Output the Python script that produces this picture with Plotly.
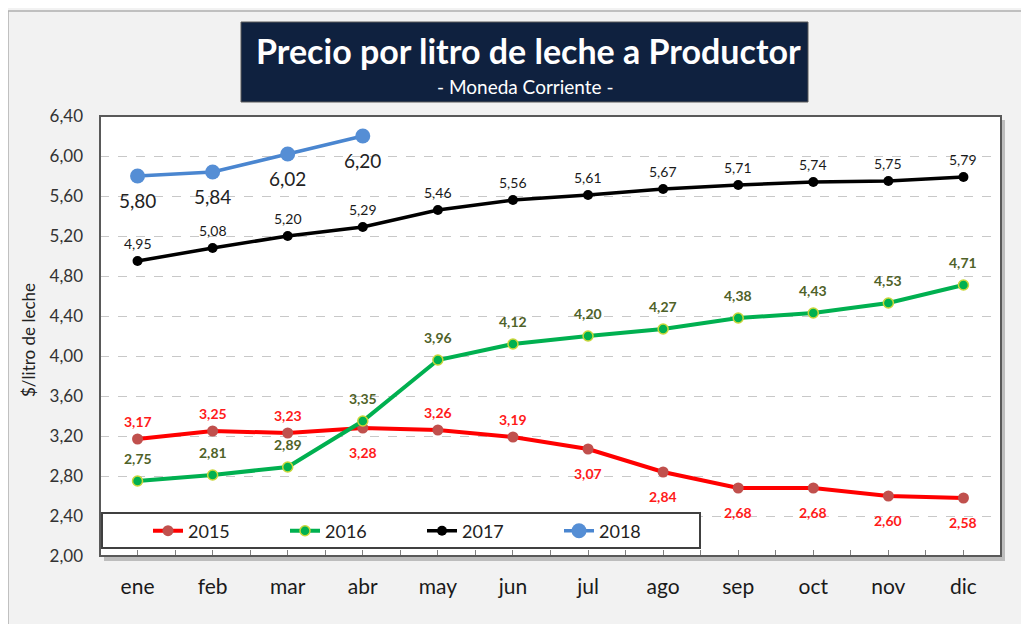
import plotly.graph_objects as go

months = ["ene", "feb", "mar", "abr", "may", "jun", "jul", "ago", "sep", "oct", "nov", "dic"]
v2015 = [3.17, 3.25, 3.23, 3.28, 3.26, 3.19, 3.07, 2.84, 2.68, 2.68, 2.60, 2.58]
v2016 = [2.75, 2.81, 2.89, 3.35, 3.96, 4.12, 4.20, 4.27, 4.38, 4.43, 4.53, 4.71]
v2017 = [4.95, 5.08, 5.20, 5.29, 5.46, 5.56, 5.61, 5.67, 5.71, 5.74, 5.75, 5.79]
v2018 = [5.80, 5.84, 6.02, 6.20]
# label placement: 1 = above the point, -1 = below
side2015 = [1, 1, 1, -1, 1, 1, -1, -1, -1, -1, -1, -1]

W, H = 1029, 624
OFF = 8  # page body margin
PL, PR, PT, PB = 100, 1001, 116, 556
L, R, T, B = PL - OFF, PR - OFF, PT - OFF, PB - OFF


def px(x):
    return (x - PL) / (PR - PL)


def py(y):
    return (PB - y) / (PB - PT)


xs = list(range(12))


def fmt(v):
    return f"{v:.2f}".replace(".", ",")


fig = go.Figure()
fig.add_trace(go.Scatter(
    x=xs, y=v2015, name="2015", mode="lines+markers",
    line=dict(color="#ff0000", width=4),
    marker=dict(color="#c0504d", size=11),
))
fig.add_trace(go.Scatter(
    x=xs, y=v2016, name="2016", mode="lines+markers",
    line=dict(color="#00b050", width=4),
    marker=dict(color="#00b050", size=10, line=dict(color="#c9d63a", width=1.5)),
))
fig.add_trace(go.Scatter(
    x=xs, y=v2017, name="2017", mode="lines+markers",
    line=dict(color="#000000", width=3.5),
    marker=dict(color="#000000", size=10),
))
fig.add_trace(go.Scatter(
    x=xs[:len(v2018)], y=v2018, name="2018", mode="lines+markers",
    line=dict(color="#4a86d0", width=3.5),
    marker=dict(color="#558ed5", size=15),
))

annotations = []


def add_labels(vals, sides, up, down, color, size, weight):
    for i, (v, s) in enumerate(zip(vals, sides)):
        annotations.append(dict(
            x=xs[i], y=v, xref="x", yref="y", text=fmt(v), showarrow=False,
            xanchor="center", yanchor="middle", yshift=up if s > 0 else -down,
            font=dict(family="Lato", size=size, color=color, weight=weight)))


add_labels(v2015, side2015, 18, 24, "#ff1a1a", 14, "bold")
add_labels(v2016, [1] * 12, 23, 0, "#4f6228", 14, "bold")
add_labels(v2017, [1] * 12, 18, 0, "#1a1a1a", 14, "normal")
add_labels(v2018, [-1] * 4, 0, 24, "#222222", 19, "normal")

shapes = [
    dict(type="rect", xref="paper", yref="paper", x0=px(8), x1=px(1050), y0=py(650), y1=py(11),
         line=dict(color="#b0b0b0", width=1.5), fillcolor="rgba(0,0,0,0)", layer="below"),
    dict(type="rect", xref="paper", yref="paper", x0=px(PL + 4), x1=px(PR + 4), y0=py(PB + 5), y1=py(PT + 4),
         line=dict(width=0), fillcolor="#bdbdbd", layer="below"),
    dict(type="rect", xref="paper", yref="paper", x0=0, x1=1, y0=0, y1=1,
         line=dict(width=0), fillcolor="white", layer="below"),
    dict(type="rect", xref="paper", yref="paper", x0=0, x1=1, y0=0, y1=1,
         line=dict(color="#595959", width=2), fillcolor="rgba(0,0,0,0)", layer="above"),
    dict(type="rect", xref="paper", yref="paper", x0=px(102), x1=px(700), y0=py(548), y1=py(513),
         line=dict(color="#404040", width=2), fillcolor="white", layer="above"),
    dict(type="rect", xref="paper", yref="paper", x0=px(241), x1=px(808), y0=py(102), y1=py(22),
         line=dict(color="#5a5a5a", width=1), fillcolor="#0f213f", layer="above"),
]

annotations += [
    dict(text="<b>Precio por litro de leche a Productor</b>", xref="paper", yref="paper",
         x=px(528), y=py(50), xanchor="center", yanchor="middle", showarrow=False,
         font=dict(family="Lato", size=34, color="white")),
    dict(text="- Moneda Corriente -", xref="paper", yref="paper",
         x=px(525), y=py(86), xanchor="center", yanchor="middle", showarrow=False,
         font=dict(family="Lato", size=19, color="white")),
    dict(text="$/litro de leche", xref="paper", yref="paper", textangle=-90,
         x=px(28), y=py(340), xanchor="center", yanchor="middle", showarrow=False,
         font=dict(family="Lato", size=17, color="#222222")),
]

fig.update_layout(
    width=W, height=H,
    margin=dict(l=L, r=W - R, t=T, b=H - B),
    paper_bgcolor="#f2f2f2", plot_bgcolor="white",
    separators=",.",
    font=dict(family="Lato", color="#222222"),
    shapes=shapes, annotations=annotations,
    showlegend=True,
    legend=dict(orientation="h", x=px(148), y=py(531), xanchor="left", yanchor="middle",
                bgcolor="rgba(0,0,0,0)", borderwidth=0, entrywidth=92, entrywidthmode="pixels",
                font=dict(size=18, color="#222222", family="Lato"), traceorder="normal"),
)
fig.update_xaxes(
    range=[-0.5, 11.5], tickvals=xs, ticktext=months, showgrid=False, zeroline=False,
    ticks="inside", ticklen=6, tickcolor="#7f7f7f",
    minor=dict(ticks="inside", ticklen=6, tickcolor="#7f7f7f", dtick=0.5, tick0=-0.5, showgrid=False),
    tickfont=dict(size=21, color="#1a1a1a"), ticklabelstandoff=16, showline=False,
)
fig.update_yaxes(
    range=[2.0, 6.4], dtick=0.4, tick0=2.0, tickformat=".2f", showgrid=True,
    gridcolor="#c8c8c8", griddash="dash", gridwidth=1, zeroline=False, showline=False,
    tickfont=dict(size=17, color="#333333"), ticks="", ticklabelstandoff=16,
)

fig.write_html("out.html")
